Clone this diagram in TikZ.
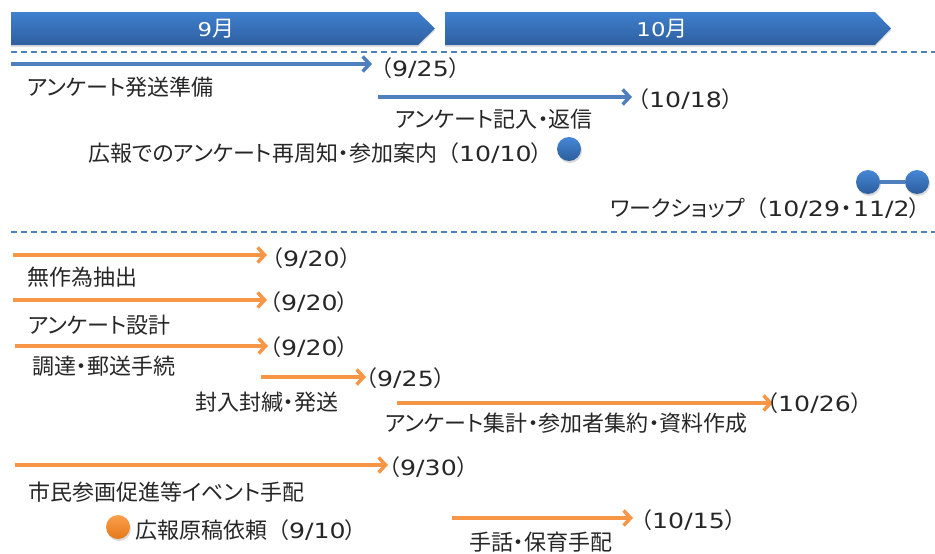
\documentclass[tikz,border=0pt]{standalone}
\usepackage{fontspec}
\setmainfont{DejaVu Sans}[FakeStretch=1.2]
\newfontfamily\jp[RawFeature=+palt]{Noto Sans CJK JP}
\newfontfamily\jw{Noto Sans CJK JP}
\usetikzlibrary{arrows.meta,shadows}
\definecolor{barTop}{HTML}{3F80CF}
\definecolor{barBottom}{HTML}{2E5F9F}
\definecolor{lineColor}{HTML}{4F81BD}
\definecolor{penBlue}{HTML}{4F7FBD}
\definecolor{penOrange}{HTML}{F79646}
\definecolor{dotTop}{HTML}{4587D6}
\definecolor{dotBottom}{HTML}{2C5D9C}
\definecolor{odotTop}{HTML}{FBA04C}
\definecolor{odotBottom}{HTML}{E5781A}
\colorlet{inkColor}{black!85}
\newcommand{\jt}[1]{{\jp\fontsize{22}{24}\selectfont #1}}
\newcommand{\jf}[1]{{\jw\fontsize{22}{24}\selectfont #1}}
\newcommand{\dt}[1]{\jf{（}#1\jt{）}}
\tikzset{
  bar/.style={top color=barTop, bottom color=barBottom,
    drop shadow={opacity=.25, shadow xshift=0pt, shadow yshift=-2pt}},
  month/.style={text=white, inner sep=0pt, font=\fontsize{19}{24}\selectfont},
  divider/.style={lineColor, line width=1.5pt, dash pattern=on 6pt off 4pt},
  barr/.style={penBlue, line width=3.5pt, -{Straight Barb[length=7pt,width=15pt]}},
  oarr/.style={penOrange, line width=3.5pt, -{Straight Barb[length=7pt,width=15pt]}},
  date/.style={anchor=west, inner sep=0pt, text=inkColor, text height=18pt, text depth=2pt,
    font=\fontsize{21}{24}\selectfont},
  task/.style={date},
  bdot/.style={circle, inner sep=0pt, minimum size=24pt, top color=dotTop, bottom color=dotBottom,
    drop shadow={opacity=.3, shadow xshift=1pt, shadow yshift=-2pt}},
  odot/.style={bdot, top color=odotTop, bottom color=odotBottom}
}
\begin{document}
\begin{tikzpicture}[x=1pt,y=-1pt]
\useasboundingbox (0,0) rectangle (935,554);
% months
\shade[bar] (11,12) -- (418,12) -- (435,28.5) -- (418,45) -- (11,45) -- cycle;
\shade[bar] (445,12) -- (875,12) -- (891,28.5) -- (875,45) -- (445,45) -- cycle;
\node[month] (sept) at (216,29) {9\jt{月}};
\node[month] (octo) at (662,29) {10\jt{月}};
\draw[divider] (11,52) -- (935,52);
\draw[divider] (11,232) -- (935,232);

% blue tasks
\coordinate (a1) at (11,64);
\coordinate (a1e) at (372,64);
\draw[barr] (a1) -- (a1e);
\node[date] (a1d) at (370,68) {\dt{9/25}};
\node[task] (a1t) at (27,87) {\jt{アンケート発送準備}};

\coordinate (a2) at (378,97);
\coordinate (a2e) at (632,97);
\draw[barr] (a2) -- (a2e);
\node[date] (a2d) at (627,99) {\dt{10/18}};
\node[task] (a2t) at (395,119) {\jt{アンケート記入・返信}};

\node[task] (a3t) at (88,153) {\jt{広報でのアンケート再周知・参加案内}\dt{10/10}};
\node[bdot] (a3) at (569,149) {};

\node[bdot] (w1) at (868,182) {};
\node[bdot] (w2) at (917,182) {};
\draw[penBlue, line width=4pt] (w1) -- (w2);
\node[task] (wt) at (610,208) {\jt{ワークショップ}\dt{10/29\kern1pt\jt{・}\kern1pt 11/2}};

% orange tasks
\coordinate (o1) at (13,255);
\coordinate (o1e) at (267,255);
\draw[oarr] (o1) -- (o1e);
\node[date] (o1d) at (261,258) {\dt{9/20}};
\node[task] (o1t) at (27,277) {\jt{無作為抽出}};

\coordinate (o2) at (13,300);
\coordinate (o2e) at (267,300);
\draw[oarr] (o2) -- (o2e);
\node[date] (o2d) at (259,302) {\dt{9/20}};
\node[task] (o2t) at (28,325) {\jt{アンケート設計}};

\coordinate (o3) at (15,346);
\coordinate (o3e) at (268,346);
\draw[oarr] (o3) -- (o3e);
\node[date] (o3d) at (259,347) {\dt{9/20}};
\node[task] (o3t) at (32,366) {\jt{調達・郵送手続}};

\coordinate (o4) at (261,377);
\coordinate (o4e) at (366,377);
\draw[oarr] (o4) -- (o4e);
\node[date] (o4d) at (355,378) {\dt{9/25}};
\node[task] (o4t) at (195,402) {\jt{封入封緘・発送}};

\coordinate (o5) at (397,403);
\coordinate (o5e) at (773,403);
\draw[oarr] (o5) -- (o5e);
\node[date] (o5d) at (756,403) {\dt{10/26}};
\node[task] (o5t) at (385,423) {\jt{アンケート集計・参加者集約・資料作成}};

\coordinate (o6) at (15,465);
\coordinate (o6e) at (388,465);
\draw[oarr] (o6) -- (o6e);
\node[date] (o6d) at (378,467) {\dt{9/30}};
\node[task] (o6t) at (28,492) {\jt{市民参画促進等イベント手配}};

\node[odot] (o8) at (118,527) {};
\node[task] (o8t) at (135,530) {\jt{広報原稿依頼}\dt{9/10}};

\coordinate (o7) at (452,518);
\coordinate (o7e) at (633,518);
\draw[oarr] (o7) -- (o7e);
\node[date] (o7d) at (630,520) {\dt{10/15}};
\node[task] (o7t) at (469,542) {\jt{手話・保育手配}};
\end{tikzpicture}
\end{document}
